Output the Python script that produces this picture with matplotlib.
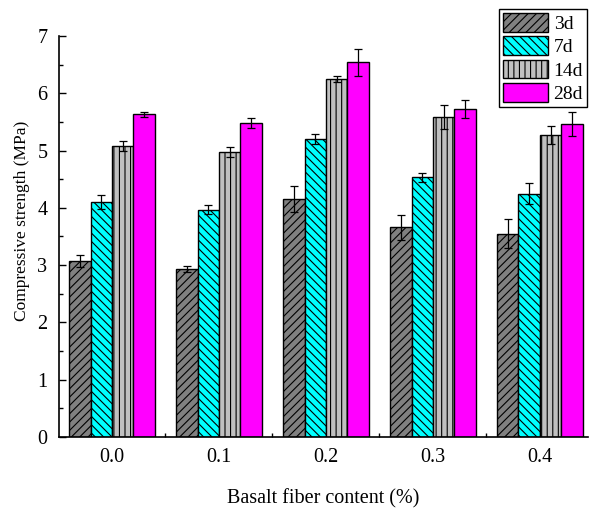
import numpy as np
import matplotlib
matplotlib.use("Agg")
import matplotlib.pyplot as plt
from matplotlib.ticker import MultipleLocator, FixedLocator

plt.rcParams["font.family"] = ["Liberation Serif", "DejaVu Serif"]
plt.rcParams["hatch.linewidth"] = 0.8

# ---------------------------------------------------------------------------
# Data
# ---------------------------------------------------------------------------
contents = ["0.0", "0.1", "0.2", "0.3", "0.4"]
ages = ["3d", "7d", "14d", "28d"]

s_3d = [3.07, 2.93, 4.15, 3.66, 3.55]
s_7d = [4.10, 3.97, 5.20, 4.53, 4.25]
s_14d = [5.08, 4.98, 6.25, 5.59, 5.27]
s_28d = [5.63, 5.48, 6.54, 5.72, 5.47]

e_3d = [0.10, 0.05, 0.23, 0.22, 0.25]
e_7d = [0.12, 0.08, 0.09, 0.085, 0.18]
e_14d = [0.08, 0.09, 0.06, 0.21, 0.16]
e_28d = [0.05, 0.09, 0.23, 0.16, 0.21]

series = [s_3d, s_7d, s_14d, s_28d]
errors = [e_3d, e_7d, e_14d, e_28d]
colors = ["#808080", "#00ffff", "#c0c0c0", "#ff00ff"]
hatches = ["////", "\\\\\\\\", "|||", ""]

# ---------------------------------------------------------------------------
# Plot
# ---------------------------------------------------------------------------
fig = plt.figure(figsize=(5.91, 5.11), dpi=100)
ax = fig.add_axes([58.5 / 591, 74 / 511, (588 - 58.5) / 591, (437 - 36) / 511])

x = np.arange(len(contents))
w = 0.2
for i, (vals, errs) in enumerate(zip(series, errors)):
    pos = x + (i - 1.5) * w
    ax.bar(pos, vals, width=w, color=colors[i], edgecolor="black",
           linewidth=1.0, hatch=hatches[i], label=ages[i], zorder=2)
    ax.errorbar(pos, vals, yerr=errs, fmt="none", ecolor="black",
                elinewidth=0.9, capsize=3.2, capthick=0.9, zorder=3)

ax.set_xlim(-0.5, 4.45)
ax.set_ylim(0, 7)
ax.set_xticks(x)
ax.set_xticklabels(contents)
ax.xaxis.set_minor_locator(FixedLocator([0.5, 1.5, 2.5, 3.5]))
ax.yaxis.set_major_locator(MultipleLocator(1))
ax.yaxis.set_minor_locator(MultipleLocator(0.5))

ax.tick_params(axis="x", which="major", length=0, pad=8, labelsize=14.5)
ax.tick_params(axis="x", which="minor", direction="in", length=3, width=1)
ax.tick_params(axis="y", which="major", direction="in", length=5, width=1,
               labelsize=14.5, pad=8)
ax.tick_params(axis="y", which="minor", direction="in", length=3, width=1)

for side in ["top", "right"]:
    ax.spines[side].set_visible(False)
for side in ["left", "bottom"]:
    ax.spines[side].set_linewidth(1.2)

ax.set_xlabel("Basalt fiber content (%)", fontsize=14.5, labelpad=16)
ax.set_ylabel("Compressive strength (MPa)", fontsize=12.5)
ax.yaxis.set_label_coords(-0.053, 0.54)

leg = ax.legend(loc="upper right", bbox_to_anchor=(587 / 591, 1 - 9 / 511),
                bbox_transform=fig.transFigure, borderaxespad=0,
                fontsize=14, handlelength=2.3, handleheight=1.1,
                labelspacing=0.18, handletextpad=0.3, borderpad=0.2,
                fancybox=False, framealpha=1, edgecolor="black")
leg.get_frame().set_linewidth(1.0)
leg.set_zorder(5)

fig.savefig("out.png", dpi=100)
